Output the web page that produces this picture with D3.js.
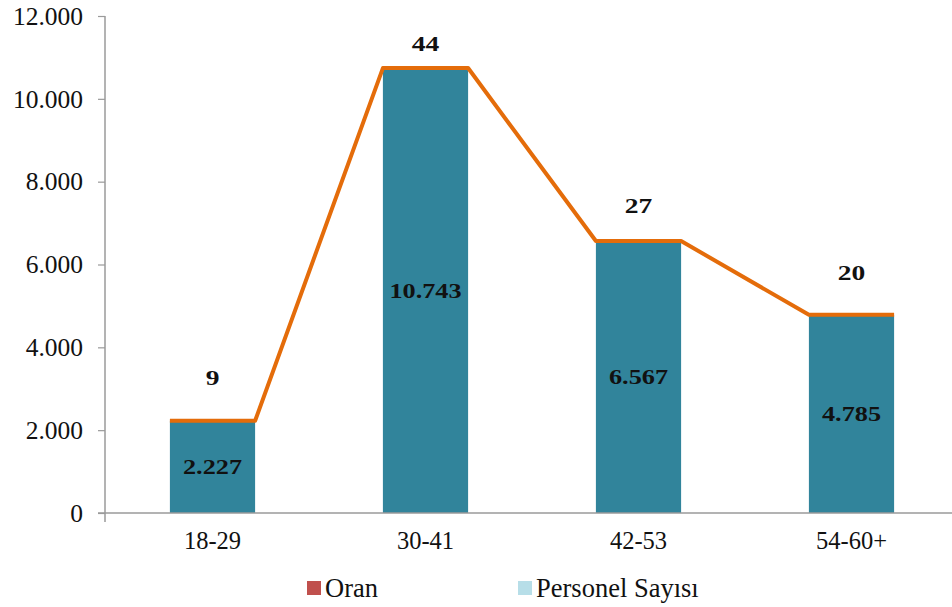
<!DOCTYPE html>
<html>
<head>
<meta charset="utf-8">
<script src="https://cdn.jsdelivr.net/npm/d3@7"></script>
<style>
  html, body { margin: 0; padding: 0; background: #fff; }
  svg { display: block; }
  svg text { font-family: "Times New Roman", "Liberation Serif", Tinos, "DejaVu Serif", serif !important; }
</style>
</head>
<body>
<svg id="chart" width="952" height="607"></svg>
<script>
const categories = ["18-29", "30-41", "42-53", "54-60+"];
const personelSayisi = [2227, 10743, 6567, 4785];
const personelLabels = ["2.227", "10.743", "6.567", "4.785"];
const oran = [9, 44, 27, 20];
const yTicks = [0, 2000, 4000, 6000, 8000, 10000, 12000];
const yTickLabels = ["0", "2.000", "4.000", "6.000", "8.000", "10.000", "12.000"];
const legendItems = ["Oran", "Personel Sayısı"];

const svg = d3.select("#chart");
const barColor = "#31849B";
const lineColor = "#E46C0A";
const legendColors = ["#C0504D", "#B7DEE8"];

const x = d3.scaleBand().domain(categories).range([106, 958]).paddingInner(0.6).paddingOuter(0.3);
const y = d3.scaleLinear().domain([0, 12000]).range([513, 16]);
// hidden secondary scale used for the Oran labels
const y2 = d3.scaleLinear().domain([0, 50]).range([463, -14]);

// bars
svg.append("g").selectAll("rect").data(personelSayisi).join("rect")
  .attr("x", (d, i) => x(categories[i]))
  .attr("width", x.bandwidth())
  .attr("y", d => y(d))
  .attr("height", d => y(0) - y(d))
  .attr("fill", barColor);

// orange line along bar tops
const pts = [];
personelSayisi.forEach((d, i) => {
  pts.push([x(categories[i]), y(d)]);
  pts.push([x(categories[i]) + x.bandwidth(), y(d)]);
});
svg.append("path")
  .attr("d", d3.line()(pts))
  .attr("fill", "none")
  .attr("stroke", lineColor)
  .attr("stroke-width", 4)
  .attr("stroke-linejoin", "round");

// y axis
const yAxis = svg.append("g").attr("transform", "translate(105,0)")
  .call(d3.axisLeft(y).tickValues(yTicks).tickFormat((d, i) => yTickLabels[i]).tickSize(7).tickPadding(15));
yAxis.attr("font-family", null);
yAxis.select(".domain").attr("stroke", "#9a9a9a").attr("stroke-width", 1.5).attr("d", "M0,16V522");
yAxis.selectAll(".tick line").attr("stroke", "#9a9a9a").attr("stroke-width", 1.2);
yAxis.selectAll(".tick text").attr("font-size", 25.5).attr("fill", "#111");

// x axis
const xAxis = svg.append("g").attr("transform", "translate(0,513)")
  .call(d3.axisBottom(x).tickSize(0).tickPadding(19));
xAxis.attr("font-family", null);
xAxis.select(".domain").attr("stroke", "#9a9a9a").attr("stroke-width", 1.5).attr("d", "M98,0H952");
xAxis.selectAll(".tick text").attr("font-size", 24.5).attr("fill", "#111");

// value labels inside bars
svg.append("g").selectAll("text").data(personelSayisi).join("text")
  .attr("transform", (d, i) => `translate(${x(categories[i]) + x.bandwidth() / 2},${(y(d) + y(0)) / 2}) scale(1.25,1)`)
  .attr("text-anchor", "middle")
  .attr("dominant-baseline", "central")
  .attr("font-size", 21)
  .attr("font-weight", "bold")
  .attr("fill", "#111")
  .text((d, i) => personelLabels[i]);

// oran labels
svg.append("g").selectAll("text").data(oran).join("text")
  .attr("transform", (d, i) => `translate(${x(categories[i]) + x.bandwidth() / 2},${y2(d)}) scale(1.25,1)`)
  .attr("text-anchor", "middle")
  .attr("dominant-baseline", "central")
  .attr("font-size", 22)
  .attr("font-weight", "bold")
  .attr("fill", "#111")
  .text(d => d);

// legend
const legendX = [307, 518];
const lg = svg.append("g");
legendItems.forEach((name, i) => {
  lg.append("rect").attr("x", legendX[i]).attr("y", 581).attr("width", 14).attr("height", 14)
    .attr("fill", legendColors[i]);
  lg.append("text").attr("x", legendX[i] + 18).attr("y", 588)
    .attr("dominant-baseline", "central")
    .attr("font-size", 26.5).attr("fill", "#111")
    .text(name);
});
</script>
</body>
</html>
